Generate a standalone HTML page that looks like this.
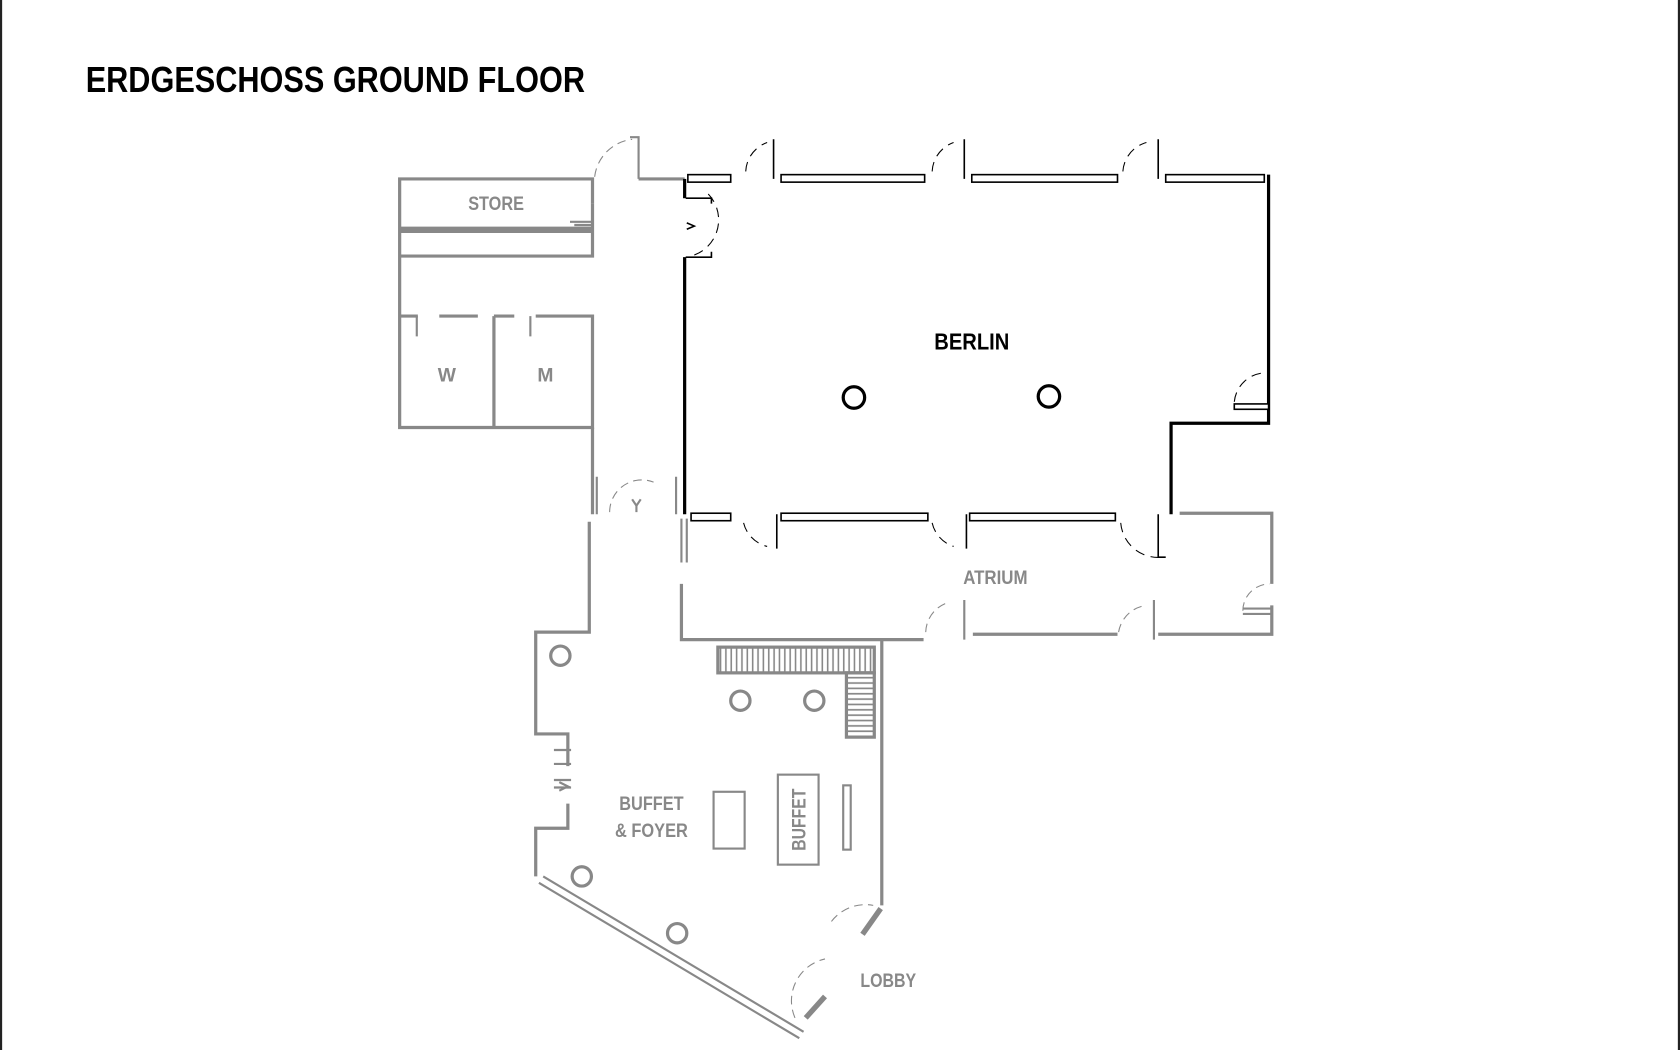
<!DOCTYPE html>
<html><head><style>html,body{margin:0;padding:0;background:#fff}svg{display:block}</style></head>
<body>
<svg width="1680" height="1050" viewBox="0 0 1568 980" xmlns="http://www.w3.org/2000/svg" font-family="Liberation Sans, sans-serif">
<defs>
<pattern id="tread" width="5" height="30" patternUnits="userSpaceOnUse"><line x1="2.5" y1="0" x2="2.5" y2="30" stroke="#888" stroke-width="1.5"/></pattern>
<pattern id="treadv" width="30" height="5" patternUnits="userSpaceOnUse"><line x1="0" y1="2.5" x2="30" y2="2.5" stroke="#888" stroke-width="1.5"/></pattern>
</defs>
<rect x="0" y="0" width="1568" height="980" fill="#fff"/>
<line x1="1" y1="0" x2="1" y2="980" stroke="#222" stroke-width="2"/>
<line x1="1567" y1="0" x2="1567" y2="980" stroke="#222" stroke-width="2"/>
<text x="80" y="86" font-size="34" font-weight="bold" textLength="466" lengthAdjust="spacingAndGlyphs" fill="#000">ERDGESCHOSS GROUND FLOOR</text>

<g fill="none" stroke="#888" stroke-width="3">
<path d="M553,190 V167 H373 V399 H553 V295 H500 M480,295 H461 M461,295 V399 M446,295 H410 M390,295 H373"/>
<path d="M373,213 H553 V190 M373,239 H553 V216 H373"/>
<path d="M553,399 V480"/>
<path d="M596,167 H639"/>
<path d="M550,487 V590 H500 V685 H530 V715"/>
<path d="M530,750 V773 H500 V818"/>
<path d="M823,598 V845"/>
<path d="M636,545 V597 H862"/>
<path d="M908,592 H1043 M1081,592 H1187 V565 M1187,545 V479 H1101"/>
<rect x="670" y="604" width="146" height="24" fill="url(#tread)"/>
<rect x="790" y="628" width="26" height="60" fill="url(#treadv)"/>
<circle cx="523" cy="612" r="9"/><circle cx="691" cy="654" r="9"/><circle cx="760" cy="654" r="9"/>
<circle cx="543" cy="818" r="9"/><circle cx="632" cy="871" r="9"/>
<rect x="666" y="739" width="29" height="53" stroke-width="2"/>
<rect x="726" y="723" width="38" height="84" stroke-width="2"/>
<rect x="787" y="733" width="7" height="60" stroke-width="2"/>
<path d="M805,872 L822,848 M752,950 L770,930" stroke-width="5"/>
</g>
<g fill="none" stroke="#888" stroke-width="2">
<path d="M507,818 L750,963 M503,824 L746,969"/>
<path d="M588,128 H596 V167"/>
<path d="M631,445 V480 M557,445 V480"/>
<path d="M636,484 V525 M641,484 V525"/>
<path d="M900,560 V597 M1077,560 V597"/>
<path d="M1160,568 H1187 M1160,573 H1187"/>
<path d="M532,207 H553 M536,210 H553"/>
<path d="M517,713 H533 M517,700 H533 M517,728 H533 M517,735 H533"/>
<path d="M522,738 L530,734 L522,730 M590,466 L594,472 L598,466 M594,472 V478"/>
<path d="M389,295 V314 M495,295 V314"/>
</g>
<g fill="none" stroke="#888" stroke-width="1" stroke-dasharray="8,5">
<path d="M555,165 A40,40 0 0 1 590,130"/>
<path d="M569,478 A30,30 0 0 1 610,450"/>
<path d="M776,860 A40,40 0 0 1 815,845"/>
<path d="M742,950 A40,40 0 0 1 770,895"/>
<path d="M864,590 A30,30 0 0 1 886,562"/>
<path d="M1044,590 A30,30 0 0 1 1070,565"/>
<path d="M1160,570 A25,25 0 0 1 1185,545"/>
</g>

<g fill="none" stroke="#000" stroke-width="3">
<path d="M639,240 V480 M1184,163 V395 H1093 V480"/>
<path d="M639,167 V185"/>
</g>
<g fill="none" stroke="#000" stroke-width="1.5">
<path d="M722,130 V167 M900,130 V167 M1081,130 V167"/>
<path d="M725,480 V512 M902,480 V512 M1081,480 V520 H1088"/>
<path d="M640,185 H664 V190 M640,240 H664 V235"/>
<path d="M641,208 L648,211 L641,214"/>
</g>
<g fill="#fff" stroke="#000" stroke-width="1.5">
<rect x="642" y="163" width="40" height="7"/>
<rect x="729" y="163" width="134" height="7"/>
<rect x="907" y="163" width="136" height="7"/>
<rect x="1088" y="163" width="92" height="7"/>
<rect x="645" y="479" width="37" height="7"/>
<rect x="729" y="479" width="137" height="7"/>
<rect x="905" y="479" width="136" height="7"/>
<rect x="1152" y="377" width="32" height="5"/>
</g>
<g fill="none" stroke="#000" stroke-width="1" stroke-dasharray="9,6">
<path d="M696,160 A30,30 0 0 1 716,133"/>
<path d="M870,160 A30,30 0 0 1 890,133"/>
<path d="M1048,160 A30,30 0 0 1 1070,133"/>
<path d="M648,238 A35,35 0 0 0 660,180"/>
<path d="M1152,375 A30,30 0 0 1 1184,348"/>
<path d="M694,488 A30,30 0 0 0 716,510"/>
<path d="M870,488 A30,30 0 0 0 890,510"/>
<path d="M1046,488 A35,35 0 0 0 1085,520"/>
</g>
<circle cx="797" cy="371" r="10" fill="none" stroke="#000" stroke-width="3"/>
<circle cx="979" cy="370" r="10" fill="none" stroke="#000" stroke-width="3"/>

<g font-weight="bold" text-anchor="middle">
<text x="907" y="326" font-size="22" fill="#000" textLength="70" lengthAdjust="spacingAndGlyphs">BERLIN</text>
<text x="463" y="196" font-size="18" fill="#888" textLength="52" lengthAdjust="spacingAndGlyphs">STORE</text>
<text x="417" y="356" font-size="18" fill="#888">W</text>
<text x="509" y="356" font-size="18" fill="#888">M</text>
<text x="929" y="545" font-size="18" fill="#888" textLength="60" lengthAdjust="spacingAndGlyphs">ATRIUM</text>
<text x="608" y="756" font-size="18" fill="#888" textLength="60" lengthAdjust="spacingAndGlyphs">BUFFET</text>
<text x="608" y="781" font-size="18" fill="#888" textLength="68" lengthAdjust="spacingAndGlyphs">&amp; FOYER</text>
<text x="829" y="921" font-size="18" fill="#888" textLength="52" lengthAdjust="spacingAndGlyphs">LOBBY</text>
<text transform="translate(752,765) rotate(-90)" font-size="18" fill="#888" textLength="58" lengthAdjust="spacingAndGlyphs">BUFFET</text>
</g>
</svg>
</body></html>
